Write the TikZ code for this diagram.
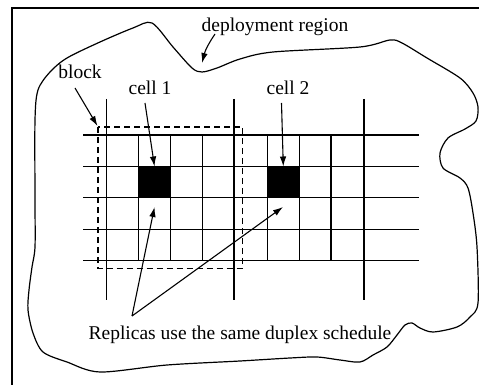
\documentclass[tikz,border=0pt]{standalone}
\usepackage{fontspec}
\setmainfont{Liberation Serif}
\usetikzlibrary{arrows.meta}
\begin{document}
\begin{tikzpicture}[x=1pt,y=-1pt,
  lbl/.style={inner sep=0pt,anchor=base,font=\fontsize{19.5}{22}\selectfont},
  gridline/.style={line width=1.5pt},
  outline/.style={line width=1.2pt},
  pointer/.style={line width=1.1pt,-{Latex[length=10pt,width=6.5pt]}},
  blockbox/.style={line width=1.3pt,dash pattern=on 6pt off 4pt},
  cellsq/.style={fill=black,draw=black,inner sep=0pt,minimum width=32pt,minimum height=30.6pt}]
\useasboundingbox (0,0) rectangle (479,385);
% frame
\draw[outline] (12,385) -- (12,8) -- (479,8);
% deployment region
\draw[outline] plot[smooth cycle,tension=0.5] coordinates {
 (35,200) (35,120) (38,90) (50,72) (67,58) (100,42) (133,28) (152,23)
 (173,47) (192,68) (202,72) (217,68) (240,59) (273,52) (360,47) (390,40)
 (402,43) (427,58) (460,78) (473,93) (478,107) (476,121) (465,129) (448,138)
 (440,153) (443,168) (460,178) (468,188) (473,213) (477,247) (478,303)
 (470,317) (457,327) (433,332) (420,328) (412,323) (405,325) (397,335)
 (387,347) (373,355) (360,362) (340,360) (317,357) (290,358) (240,361)
 (167,365) (100,372) (67,362) (43,352) (33,333) (28,310) (29,290) (32,267) (35,247)};
% grid
\foreach \y in {135,166.7,197.3,229.3,260.7}
  \draw[gridline] (83,\y) -- (419,\y);
\foreach \x in {138.3,170.7,202.3,267.3,299.3,331}
  \draw[gridline] (\x,135) -- (\x,260.7);
\foreach \x in {106.7,234,364}
  \draw[gridline] (\x,99) -- (\x,300);
% cells
\node[cellsq] (c1) at (154.5,182) {};
\node[cellsq] (c2) at (283.3,182) {};
% block
\draw[blockbox] (98,127) rectangle (242.5,268.3);
\coordinate (blockcorner) at (97.5,126);
% labels
\node[lbl] (dep) at (275,32) {deployment region};
\node[lbl] (block) at (80,79) {block};
\node[lbl] (cell1) at (150,95) {cell 1};
\node[lbl] (cell2) at (288,95) {cell 2};
\node[lbl] (rep) at (240,339) {Replicas use the same duplex schedule};
\coordinate (dept) at (202,63);
\coordinate (apex) at (132,316);
\coordinate (r1) at (154.5,207);
\coordinate (r2) at (283,207);
% pointers
\draw[pointer] (215,34) to[bend right=10] (dept);
\draw[pointer] (75,88) -- (blockcorner);
\draw[pointer] (145,103) -- (c1.north);
\draw[pointer] (281.5,103) -- (c2.north);
\draw[pointer] (apex) -- (r1);
\draw[pointer] (apex) -- (r2);
\end{tikzpicture}
\end{document}
